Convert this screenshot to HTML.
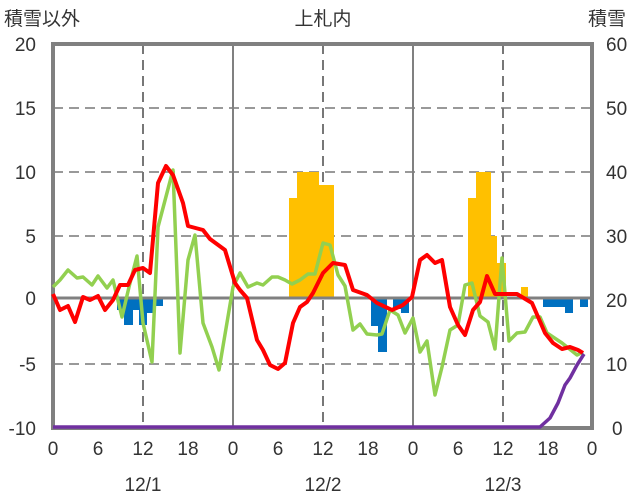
<!DOCTYPE html>
<html><head><meta charset="utf-8"><style>body{margin:0;background:#fff}svg{display:block}text{font-family:"Liberation Sans","Noto Sans CJK JP",sans-serif;fill:#333;font-size:19px}</style></head><body>
<svg width="636" height="501" viewBox="0 0 636 501">
<g stroke="#bbb" stroke-width="2" stroke-dasharray="10,6" fill="none">
<line x1="53" y1="108" x2="592" y2="108" stroke="#999"/><line x1="53" y1="172" x2="592" y2="172" stroke="#999"/><line x1="53" y1="236" x2="592" y2="236" stroke="#999"/><line x1="53" y1="364" x2="592" y2="364" stroke="#999"/>
<line x1="143" y1="44" x2="143" y2="428" stroke="#777"/><line x1="323" y1="44" x2="323" y2="428" stroke="#777"/><line x1="503" y1="44" x2="503" y2="428" stroke="#777"/>
</g>
<line x1="233" y1="44" x2="233" y2="428" stroke="#808080" stroke-width="2"/>
<line x1="413" y1="44" x2="413" y2="428" stroke="#808080" stroke-width="2"/>
<g fill="#ffc000">
<rect x="289" y="198" width="8" height="100"/><rect x="297" y="172" width="22" height="126"/><rect x="319" y="185" width="15" height="113"/>
<rect x="468" y="198" width="8" height="100"/><rect x="476" y="172" width="15" height="126"/><rect x="491" y="236" width="6" height="62"/><rect x="497" y="263" width="9" height="35"/><rect x="521" y="287" width="7" height="11"/>
</g>
<g fill="#0070c0">
<rect x="117" y="298" width="7" height="12"/><rect x="124" y="298" width="9" height="27"/><rect x="133" y="298" width="6" height="12"/><rect x="139" y="298" width="8" height="27"/><rect x="147" y="298" width="8" height="15"/><rect x="155" y="298" width="8" height="8"/>
<rect x="371" y="298" width="7" height="28"/><rect x="378" y="298" width="9" height="54"/><rect x="393" y="298" width="8" height="11"/><rect x="401" y="298" width="8" height="15"/>
<rect x="543" y="298" width="22" height="9"/><rect x="565" y="298" width="8" height="15"/><rect x="580" y="298" width="8" height="9"/>
</g>
<line x1="53" y1="298" x2="592" y2="298" stroke="#808080" stroke-width="3"/>
<rect x="53" y="44" width="539" height="384" fill="none" stroke="#808080" stroke-width="4"/>
<g fill="none" stroke-linejoin="round" stroke-width="3.5">
<polyline stroke="#92d050" points="53,287 60,280 68,270 77,278 83,277 92,285 98,276 107,288 113,280 122,317 129,287 137,256 143,323 152,362 158,227 173,170 180,353 188,260 195,235 203,323 212,347 219,370 233,287 240,273 248,287 257,283 263,285 272,277 278,277 285,280 292,284 300,280 308,274 315,274 323,243 330,245 338,275 345,286 353,330 360,324 367,334 377,335 382,334 390,310 398,315 405,333 413,318 420,352 427,341 435,395 442,367 450,330 458,325 465,285 472,283 480,316 488,322 495,349 502,258 509,341 517,333 525,332 533,317 540,317 547,333 562,343 577,355 583,352"/>
<polyline stroke="#ff0000" stroke-width="4" points="53,294 60,310 68,306 75,322 83,297 90,300 98,296 105,310 113,300 120,285 128,285 135,270 143,268 150,273 158,183 166,166 173,175 183,203 188,226 203,230 210,239 225,250 235,283 240,290 247,298 257,340 263,350 270,365 278,369 285,363 293,323 300,307 307,302 313,293 323,273 333,263 345,265 353,290 367,295 377,303 392,310 403,305 412,297 420,260 427,255 435,263 442,260 450,307 458,325 465,335 473,310 480,302 487,276 495,294 517,294 532,303 545,333 553,343 562,349 570,347 578,350 583,353"/>
<polyline stroke="#7030a0" points="53,427 540,427 550,418 558,403 565,385 570,378 577,365 584,354"/>
</g>
<g text-anchor="end">
<text x="36" y="51">20</text><text x="36" y="115">15</text><text x="36" y="179">10</text><text x="36" y="243">5</text><text x="36" y="305">0</text><text x="36" y="371">-5</text><text x="36" y="435">-10</text>
</g>
<g text-anchor="start">
<text x="606" y="51">60</text><text x="606" y="115">50</text><text x="606" y="179">40</text><text x="606" y="243">30</text><text x="606" y="307">20</text><text x="606" y="371">10</text><text x="612" y="435">0</text>
</g>
<g text-anchor="middle">
<text x="53" y="455">0</text><text x="98" y="455">6</text><text x="143" y="455">12</text><text x="188" y="455">18</text>
<text x="233" y="455">0</text><text x="278" y="455">6</text><text x="323" y="455">12</text><text x="368" y="455">18</text>
<text x="413" y="455">0</text><text x="458" y="455">6</text><text x="503" y="455">12</text><text x="548" y="455">18</text><text x="592" y="455">0</text>
<text x="143" y="491">12/1</text><text x="323" y="491">12/2</text><text x="503" y="491">12/3</text>
<text x="323" y="25">上札内</text>
</g>
<text x="4" y="25">積雪以外</text>
<text x="588" y="25">積雪</text>
</svg>
</body></html>
